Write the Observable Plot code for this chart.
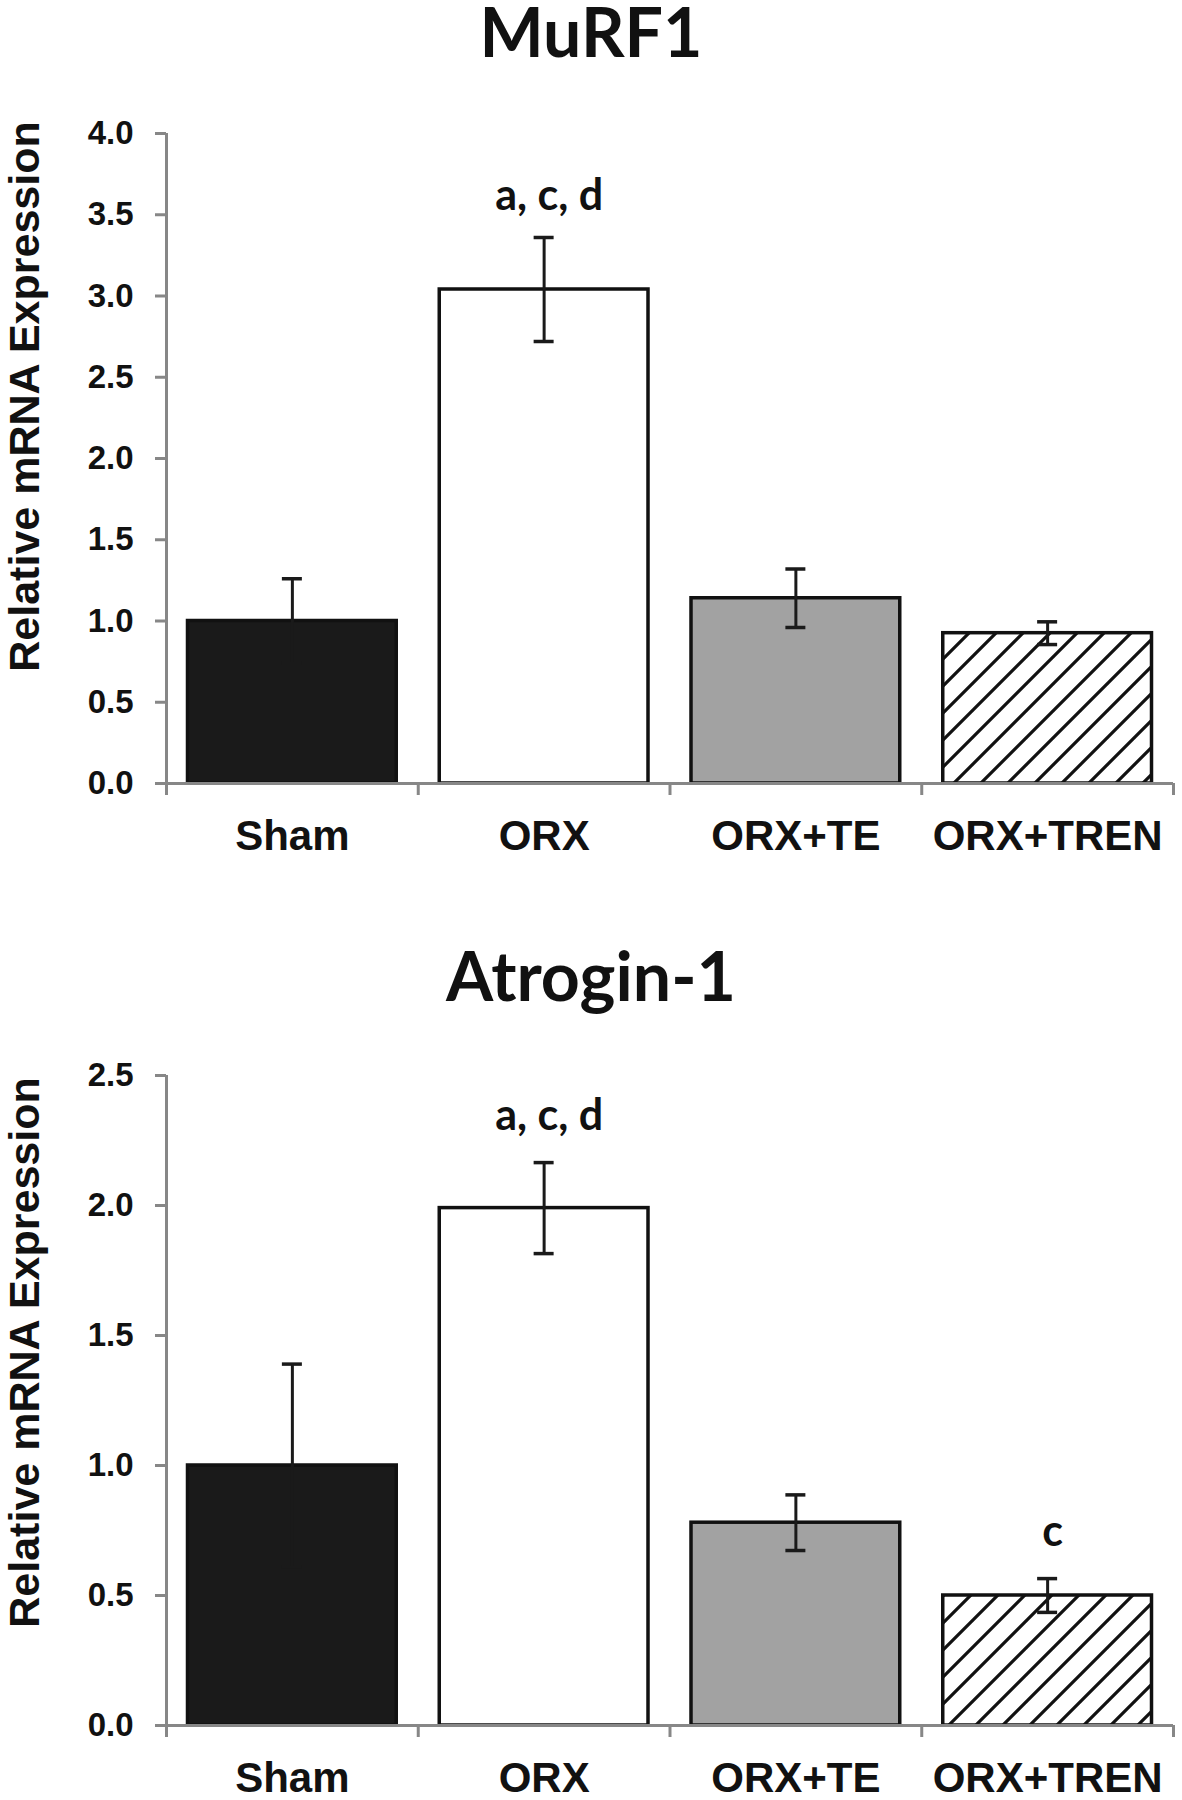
<!DOCTYPE html>
<html>
<head>
<meta charset="utf-8">
<script src="https://cdn.jsdelivr.net/npm/d3@7"></script>
<script src="https://cdn.jsdelivr.net/npm/@observablehq/plot@0.6"></script>
<style>
  body { margin: 0; background: #fff; }
  #page { position: relative; width: 1182px; height: 1800px; overflow: hidden; background: #fff; }
  .title { position: absolute; left: 0; width: 1182px; text-align: center;
           font-family: Lato, "Open Sans", sans-serif; font-weight: 700; font-size: 68px;
           line-height: 62px; color: #111; }
  .chart { position: absolute; left: 0; }
</style>
</head>
<body>
<div id="page">
  <svg width="0" height="0" style="position:absolute">
    <defs>
      <pattern id="hatch" patternUnits="userSpaceOnUse" width="27" height="27">
        <rect width="27" height="27" fill="#fff"></rect>
        <path d="M0,27 L27,0 M-6.75,6.75 L6.75,-6.75 M20.25,33.75 L33.75,20.25" stroke="#111" stroke-width="3.2"></path>
      </pattern>
    </defs>
  </svg>
  <div class="title" id="t1" style="top:0px">MuRF1</div>
  <div class="chart" id="c1" style="top:90px"></div>
  <div class="title" id="t2" style="top:944px">Atrogin-1</div>
  <div class="chart" id="c2" style="top:1000px"></div>
</div>
<script>
// ---- data ----
const groups = ["Sham", "ORX", "ORX+TE", "ORX+TREN"];

const murf1Mean = [1.00, 3.04, 1.14, 0.925];
const murf1Err  = [0.26, 0.32, 0.18, 0.07];
const murf1Sig  = ["", "a, c, d", "", ""];
const murf1Ticks = [0, 0.5, 1.0, 1.5, 2.0, 2.5, 3.0, 3.5, 4.0];

const atroginMean = [1.00, 1.99, 0.78, 0.50];
const atroginErr  = [0.39, 0.175, 0.107, 0.065];
const atroginSig  = ["", "a, c, d", "", "c"];
const atroginTicks = [0, 0.5, 1.0, 1.5, 2.0, 2.5];

const yLabel = "Relative mRNA Expression";

// ---- styles ----
const barFill = { "Sham": "#1a1a1a", "ORX": "#ffffff", "ORX+TE": "#a2a2a2", "ORX+TREN": "url(#hatch)" };
const GRAY = "#878787";
const INK = "#111";
const ERR = "#1a1a1a";

function drawChart(el, means, errs, sigs, ticks, opt) {
  const rows = groups.map((g, i) => ({ group: g, i, mean: means[i], err: errs[i], sig: sigs[i] }));
  const bounds = groups.map((g, i) => i).concat([groups.length]);
  const centers = groups.map((g, i) => i + 0.5);
  const yMax = ticks[ticks.length - 1];
  const chart = Plot.plot({
    width: 1182,
    height: opt.height,
    marginLeft: 166,
    marginRight: 9,
    marginTop: opt.marginTop,
    marginBottom: opt.marginBottom,
    style: { fontFamily: "'Liberation Sans', Arial, sans-serif", background: "transparent", overflow: "visible" },
    x: { type: "linear", domain: [0, groups.length], label: null },
    y: { domain: [0, yMax], label: null },
    color: { type: "identity" },
    marks: [
      Plot.rectY(rows, {
        x1: "i", x2: d => d.i + 1, y1: 0, y2: "mean",
        insetLeft: 21.5, insetRight: 21.5,
        fill: d => barFill[d.group], stroke: INK, strokeWidth: 3.5
      }),
      Plot.ruleX(rows, { x: d => d.i + 0.5, y1: d => d.mean - d.err, y2: d => d.mean + d.err, stroke: ERR, strokeWidth: 3 }),
      Plot.ruleY(rows, { y: d => d.mean + d.err, x1: d => d.i + 0.5, x2: d => d.i + 0.5, insetLeft: -10, insetRight: -10, stroke: ERR, strokeWidth: 3.5 }),
      Plot.ruleY(rows, { y: d => d.mean - d.err, x1: d => d.i + 0.5, x2: d => d.i + 0.5, insetLeft: -10, insetRight: -10, stroke: ERR, strokeWidth: 3.5 }),
      Plot.ruleX([0], { y1: 0, y2: yMax, stroke: GRAY, strokeWidth: 3 }),
      Plot.ruleY([0], { x1: 0, x2: groups.length, stroke: GRAY, strokeWidth: 3 }),
      Plot.axisY(ticks, {
        label: null,
        tickSize: 11, tickPadding: 22, tickFormat: d => d.toFixed(1),
        fontSize: 33, fontWeight: "bold", fill: INK, stroke: GRAY, strokeWidth: 3
      }),
      Plot.axisX(bounds, { label: null, tickSize: 12, tickFormat: () => "", stroke: GRAY, strokeWidth: 3 }),
      Plot.axisX(centers, {
        label: null,
        tickSize: 0, tickPadding: 37, tickFormat: d => groups[Math.floor(d)],
        fontSize: 42, fontWeight: "bold", fill: INK
      }),
      Plot.text(rows.filter(d => d.sig), {
        x: d => d.i + 0.5, y: d => d.mean + d.err, text: "sig",
        lineAnchor: "bottom", dy: opt.sigDy, dx: 5,
        fontFamily: "Lato, 'Open Sans', sans-serif", fontWeight: "bold", fontSize: 43, fill: INK
      }),
      Plot.text([yLabel], {
        frameAnchor: "left", textAnchor: "middle", rotate: -90, dx: -141, dy: opt.labelDy,
        fontSize: 43, fontWeight: "bold", fill: INK
      })
    ]
  });
  document.getElementById(el).appendChild(chart);
}

drawChart("c1", murf1Mean, murf1Err, murf1Sig, murf1Ticks,
  { height: 790, marginTop: 43, marginBottom: 97, labelDy: -62, sigDy: -28 });
drawChart("c2", atroginMean, atroginErr, atroginSig, atroginTicks,
  { height: 800, marginTop: 75, marginBottom: 75, labelDy: -48, sigDy: -33 });
</script>
</body>
</html>
